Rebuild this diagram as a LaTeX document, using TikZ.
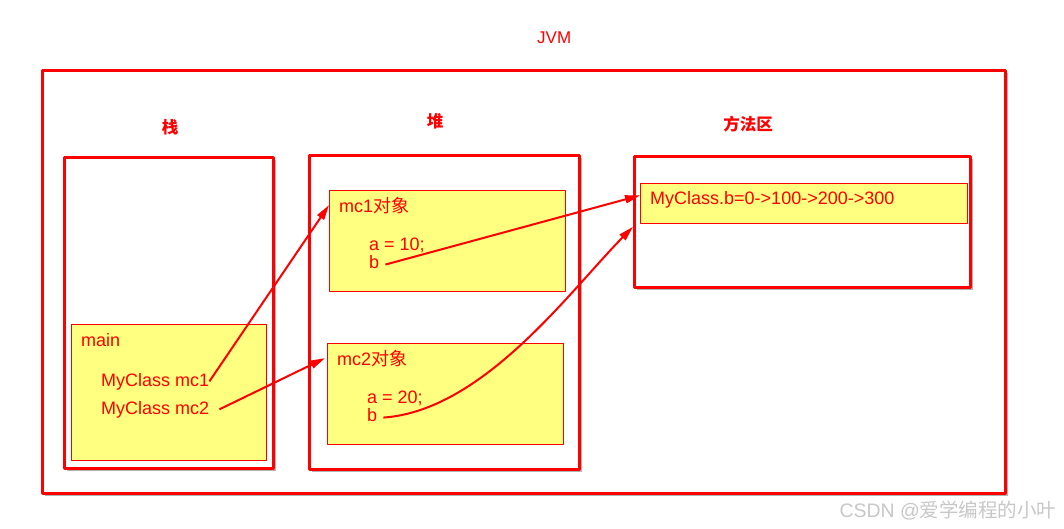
\documentclass[tikz,border=0pt]{standalone}
\usepackage{fontspec}
\setmainfont{Liberation Sans}
\newfontfamily\cjk{Noto Sans CJK SC}
\usetikzlibrary{arrows.meta,shadows}
\definecolor{jvmred}{RGB}{255,0,0}
\definecolor{noteyellow}{RGB}{255,255,128}
\tikzset{
  area/.style={draw=jvmred, line width=2.5pt, fill=white, anchor=north west, inner sep=0pt,
    drop shadow={shadow xshift=2.5pt, shadow yshift=-2.5pt, opacity=0.3, fill=black}},
  note/.style={draw=jvmred, line width=0.8pt, fill=noteyellow, anchor=north west, inner sep=0pt},
  lbl/.style={text=jvmred, font=\fontsize{18}{18}\selectfont, anchor=base west, inner sep=0pt},
  heading/.style={text=jvmred, font=\cjk\bfseries\fontsize{16.5}{16.5}\selectfont, inner sep=0pt},
  ref/.style={draw=jvmred, line width=2pt, -{Triangle[length=15pt,width=8pt]}}
}
\begin{document}
\begin{tikzpicture}[x=1pt, y=-1pt, line join=round]
  \useasboundingbox (0,0) rectangle (1064,528);
  % khung JVM
  \node[lbl, font=\fontsize{17}{17}\selectfont] (jvmtitle) at (537,43) {JVM};
  \node[area, minimum width=963pt, minimum height=423pt] (jvm) at (41,69) {};
  % ba vung nho
  \node[heading] (stacktitle) at (170,127) {栈};
  \node[heading] (heaptitle) at (435,121) {堆};
  \node[heading] (methodtitle) at (748,124) {方法区};
  \node[area, minimum width=209pt, minimum height=311pt] (stack) at (63,156) {};
  \node[area, minimum width=270pt, minimum height=314pt] (heap) at (308,154) {};
  \node[area, minimum width=336pt, minimum height=131pt] (method) at (633,155) {};
  % khung main
  \node[note, minimum width=195pt, minimum height=136pt] (mainframe) at (71,324) {};
  \node[lbl] (mainlbl) at (81,346) {main};
  \node[lbl] (refone) at (101,386) {MyClass mc1};
  \node[lbl] (reftwo) at (101,414) {MyClass mc2};
  % doi tuong mc1, mc2
  \node[note, minimum width=236pt, minimum height=101pt] (objone) at (329,190) {};
  \node[lbl] (titleone) at (339,212) {mc1{\cjk 对象}};
  \node[lbl] (aone) at (369,250) {a = 10;};
  \node[lbl] (bone) at (369,268) {b};
  \node[note, minimum width=236pt, minimum height=101pt] (objtwo) at (327,343) {};
  \node[lbl] (titletwo) at (337,365) {mc2{\cjk 对象}};
  \node[lbl] (atwo) at (367,403) {a = 20;};
  \node[lbl] (btwo) at (367,421) {b};
  % bien static
  \node[note, minimum width=327pt, minimum height=40pt] (static) at (640,183) {};
  \node[lbl] (staticlbl) at (650,204) {MyClass.b=0->100->200->300};
  \coordinate (belowstatic) at ([yshift=-3pt]method.west |- static.south);
  % mui ten
  \draw[ref] (refone.east) -- (objone.west |- titleone.west);
  \draw[ref] ([xshift=10pt]reftwo.east) -- ([xshift=-2pt]objtwo.west |- titletwo.west);
  \draw[ref] ([xshift=6pt,yshift=-3pt]bone.east) -- ([yshift=8pt]static.west);
  \draw[ref] ([xshift=6pt,yshift=-3pt]btwo.east) .. controls +(100,-7) and +(-63,64) .. (belowstatic);
  % watermark
  \node[text=black!22, font=\fontsize{19.5}{19.5}\selectfont, inner sep=0pt] (mark) at (948,511) {CSDN @{\cjk 爱学编程的小叶}};
\end{tikzpicture}
\end{document}
